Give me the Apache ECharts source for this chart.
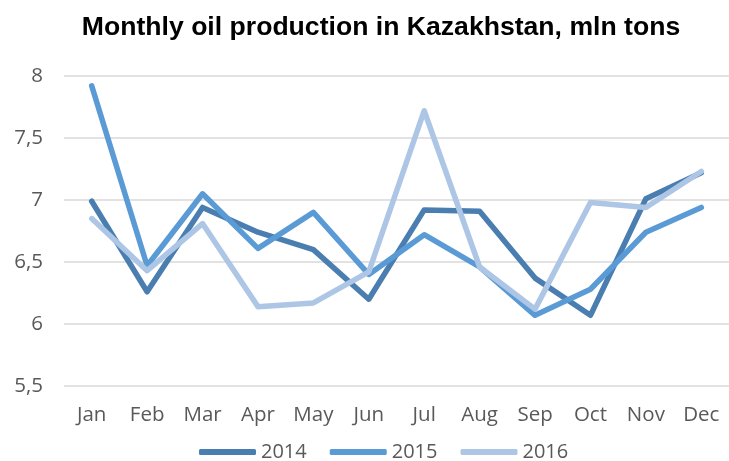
<!DOCTYPE html>
<html><head><meta charset="utf-8">
<script src="https://cdn.jsdelivr.net/npm/echarts@6/dist/echarts.min.js"></script>
<style>html,body{margin:0;padding:0;background:#fff}#c{width:729px;height:461px}</style>
</head><body><div id="c"></div>
<script>
const months = ["Jan","Feb","Mar","Apr","May","Jun","Jul","Aug","Sep","Oct","Nov","Dec"];
const s2014 = [6.99,6.26,6.94,6.74,6.60,6.20,6.92,6.91,6.37,6.07,7.01,7.22];
const s2015 = [7.92,6.47,7.05,6.61,6.90,6.40,6.72,6.46,6.07,6.28,6.74,6.94];
const s2016 = [6.85,6.43,6.81,6.14,6.17,6.42,7.72,6.46,6.12,6.98,6.94,7.23];
const seriesNames = ["2014","2015","2016"];
const colors = ["#4a7eb1","#5b9bd5","#adc6e5"];
const font = "'Open Sans', sans-serif";
const chart = echarts.init(document.getElementById('c'));
const mk = (name, data, color) => ({
  name, type: 'line', data, symbol: 'none', smooth: false,
  lineStyle: {width: 5.5, color, cap: 'round', join: 'round'}, itemStyle: {color}
});
chart.setOption({
  animation: false,
  title: {text: 'Monthly oil production in Kazakhstan, mln tons', left: 376, top: 9, textAlign: 'center',
    textStyle: {fontFamily: "'Liberation Sans', Arial, sans-serif", fontSize: 26.6, fontWeight: 'bold', color: '#000'}},
  grid: {left: 64, right: -4, top: 76, bottom: 75},
  legend: {top: 437, left: 194, itemWidth: 57, itemHeight: 6, itemGap: 23,
    icon: 'roundRect',
    textStyle: {fontFamily: font, fontSize: 20, color: '#595959'},
    data: seriesNames},
  xAxis: {type: 'category', data: months, boundaryGap: true,
    axisLine: {show: false}, axisTick: {show: false},
    axisLabel: {fontFamily: font, fontSize: 20.5, color: '#595959', margin: 19}},
  yAxis: {type: 'value', min: 5.5, max: 8, interval: 0.5,
    axisLine: {show: false}, axisTick: {show: false},
    splitLine: {lineStyle: {color: '#d9d9d9', width: 1.5}},
    axisLabel: {fontFamily: font, fontSize: 20.5, color: '#595959', margin: 21,
      formatter: v => String(v).replace('.', ',')}},
  series: [mk(seriesNames[0], s2014, colors[0]), mk(seriesNames[1], s2015, colors[1]), mk(seriesNames[2], s2016, colors[2])]
});
</script></body></html>
